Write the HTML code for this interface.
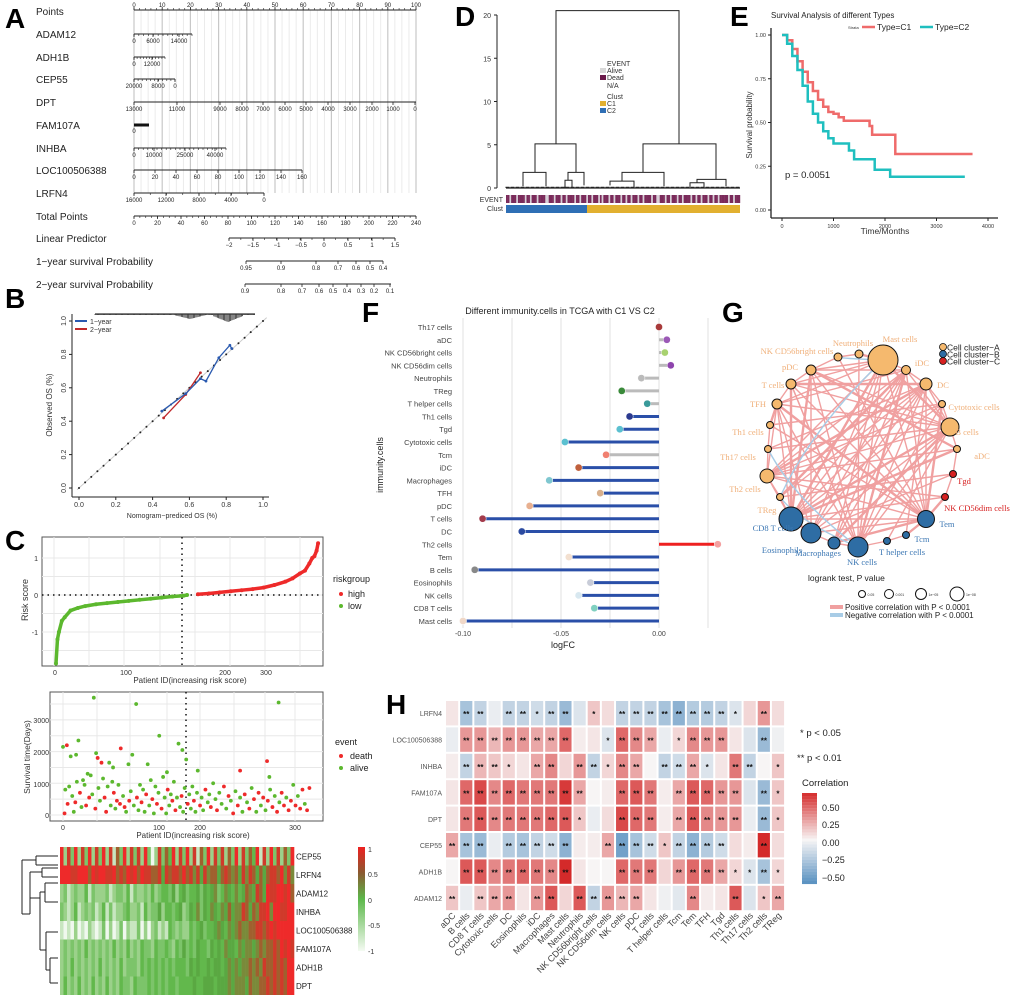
<!DOCTYPE html>
<html><head><meta charset="utf-8">
<style>
html,body{margin:0;padding:0;background:#fff;}
svg{display:block;font-family:"Liberation Sans",sans-serif;}
.pl{font-size:28px;font-weight:bold;}
.nl{font-size:10px;fill:#222;}
.tk{font-size:6px;fill:#222;}
.ax{font-size:7px;fill:#333;}
.gl{font-family:"Liberation Serif",serif;font-size:8.5px;}
</style></head>
<body>
<svg id="fig" width="1020" height="998" viewBox="0 0 1020 998" xmlns="http://www.w3.org/2000/svg">
<rect width="1020" height="998" fill="#fff"/>
<text class="pl" x="5" y="28">A</text>
<text class="pl" x="5" y="308">B</text>
<text class="pl" x="5" y="550">C</text>
<text class="pl" x="455" y="26">D</text>
<text class="pl" x="730" y="26">E</text>
<text class="pl" x="362" y="322">F</text>
<text class="pl" x="722" y="322">G</text>
<text class="pl" x="386" y="714">H</text>
<g id="gA"></g>
<g id="gB"></g>
<g id="gC"></g>
<g id="gD"></g>
<g id="gE"></g>
<g id="gF"></g>
<g id="gG"></g>
<g id="gH"></g>
</svg>
<script>
const nomoRows=["Points","ADAM12","ADH1B","CEP55","DPT","FAM107A","INHBA","LOC100506388","LRFN4","Total Points","Linear Predictor","1\u2212year survival Probability","2\u2212year survival Probability"];
const kmC1=[[0,1],[100,.97],[200,.92],[300,.85],[400,.79],[500,.73],[600,.68],[700,.63],[800,.59],[900,.56],[1000,.55],[1100,.53],[1200,.51],[1700,.48],[1750,.43],[2200,.32],[3700,.32]];
const kmC2=[[0,1],[100,.95],[200,.88],[300,.80],[400,.71],[500,.62],[600,.55],[700,.50],[800,.45],[900,.41],[1000,.38],[1300,.34],[1400,.29],[1800,.23],[2100,.19],[3550,.19]];
const cal1=[[.45,.46],[.58,.565],[.66,.655],[.69,.64],[.76,.78],[.82,.855],[.83,.835]];
const cal2=[[.46,.42],[.58,.56],[.66,.69]];
const riskRank=[0,2,4,8,12,20,30,40,55,70,85,100,115,130,145,160,175,180,195,210,225,240,255,270,285,300,315,325,335,342,348,352,355,358,360];
const riskVal=[-1.85,-1.2,-1.0,-0.7,-0.6,-0.42,-0.35,-0.3,-0.25,-0.22,-0.19,-0.16,-0.13,-0.1,-0.07,-0.04,-0.02,0.0,0.02,0.04,0.07,0.1,0.13,0.16,0.2,0.27,0.36,0.45,0.58,0.66,0.85,1.0,1.05,1.2,1.4];
const survPts=[[0,2150,0],[5,2200,1],[10,1850,0],[20,2350,0],[17,1900,0],[40,3700,0],[43,1950,0],[45,1800,1],[50,1650,1],[60,1650,0],[65,1500,0],[75,2100,1],[85,1600,0],[90,1900,0],[95,3500,0],[110,1600,0],[125,2500,0],[135,1350,0],[150,2250,0],[155,2050,0],[160,1750,0],[175,1400,0],[230,1400,1],[265,1700,1],[268,1200,0],[280,3550,0],
[2,50,1],[3,800,0],[6,350,1],[8,900,0],[12,600,0],[14,100,0],[16,400,1],[18,1050,0],[22,700,1],[24,250,0],[26,1100,0],[28,950,0],[30,300,1],[32,1300,0],[34,550,1],[36,1250,0],[38,650,0],[42,200,1],[46,850,0],[48,450,0],[52,1150,0],[54,550,1],[56,100,1],[58,900,0],[62,300,0],[64,1050,0],[66,700,1],[68,200,0],[70,450,1],[72,950,0],[74,350,1],[78,600,0],[80,250,1],[82,100,0],[86,450,1],[88,750,0],[92,300,0],[96,550,1],[98,150,0],[100,950,0],[102,400,1],[104,800,0],[106,100,0],[108,650,1],[112,300,0],[114,1100,0],[116,500,1],[118,50,0],[120,900,0],[122,350,1],[124,700,0],[128,200,1],[130,1200,0],[132,550,0],[134,50,0],[136,800,1],[138,300,0],[140,650,0],[142,450,1],[144,1050,0],[146,150,1],[148,550,0],[152,250,0],[154,600,1],[156,100,0],[158,850,0],[162,350,1],[164,650,0],[166,200,0],[168,900,0],[170,450,1],[172,100,0],[174,700,0],[178,300,1],[180,550,0],[182,150,0],[185,800,1],[188,400,0],[190,650,0],[192,250,1],[195,1000,0],[198,500,0],[200,150,1],[203,700,0],[206,350,0],[209,900,1],[212,200,0],[215,600,1],[218,450,0],[221,50,1],[224,750,0],[227,300,1],[230,550,0],[233,100,0],[236,650,1],[239,400,0],[242,200,1],[245,850,0],[248,500,1],[251,100,0],[254,700,1],[257,300,0],[260,550,1],[263,150,0],[266,450,1],[269,800,0],[272,250,1],[275,600,0],[278,100,1],[281,400,0],[284,700,1],[287,300,1],[290,550,0],[293,150,1],[296,450,1],[299,950,0],[302,300,1],[305,600,0],[308,200,1],[311,800,1],[314,350,0],[317,150,1],[320,850,1]];
const expGenes=["CEP55","LRFN4","ADAM12","INHBA","LOC100506388","FAM107A","ADH1B","DPT"];
const expRows=[
"9283928392839281739283829302837492839281739283827392837491829382739",
"9998899979899889787989798877858788797868586775787675868757578879686",
"2312322413222312332413223242344352453445354563465464576587598899897",
"3212412323124131223422314233524434523546354654657566875768896998899",
"1010201021013020130211302023121432322434534456546567667788789899999",
"2323232423232324232423243324334324353435443545465546566567677879898",
"2324232323242323242333243434343434443545445455456565667676877878799",
"2423242324232423243324333434343443444454455545556566657667787878799"];
const eventStr="ddadddaddddaddadddaddddaadddadddaddaddddaddadddaddadddadadddaddadddaddaddadddaddaddddaddaadddaddadddaddaddddaddaddadddaddaddadddddaddaddd";
const fCats=["Th17 cells","aDC","NK CD56bright cells","NK CD56dim cells","Neutrophils","TReg","T helper cells","Th1 cells","Tgd","Cytotoxic cells","Tcm","iDC","Macrophages","TFH","pDC","T cells","DC","Th2 cells","Tem","B cells","Eosinophils","NK cells","CD8 T cells","Mast cells"];
const fVals=[0.0,0.004,0.003,0.006,-0.009,-0.019,-0.006,-0.015,-0.02,-0.048,-0.027,-0.041,-0.056,-0.03,-0.066,-0.09,-0.07,0.03,-0.046,-0.094,-0.035,-0.041,-0.033,-0.1];
const fDot=["#a83a3a","#9b59b6","#a8d26f","#8e44ad","#bbbbbb","#3a8a3a","#3a9a9a","#2b3a8f","#5bc0d0","#5bc0d0","#f08070","#c0603c","#7fc7d0","#d9b08c","#e8b090","#a33b4b","#2b4aa0","#f4a0a0","#f3e0d0","#888888","#c8ccd8","#d8e8f0","#80d0c0","#f0d8c8"];
const fStem=["#bbb","#bbb","#bbb","#bbb","#bbb","#bbb","#bbb","#2a4fa8","#2a4fa8","#2a4fa8","#bbb","#2a4fa8","#2a4fa8","#2a4fa8","#2a4fa8","#2a4fa8","#2a4fa8","#ee2020","#2a4fa8","#2a4fa8","#2a4fa8","#2a4fa8","#2a4fa8","#2a4fa8"];
const gNames=["Mast cells","Neutrophils","NK CD56bright cells","pDC","T cells","TFH","Th1 cells","Th17 cells","Th2 cells","TReg","CD8 T cells","Eosinophils","Macrophages","NK cells","T helper cells","Tcm","Tem","NK CD56dim cells","Tgd","aDC","B cells","Cytotoxic cells","DC","iDC"];
const gCluster=["A","A","A","A","A","A","A","A","A","A","B","B","B","B","B","B","B","C","C","A","A","A","A","A"];
const gSize=[15,4,4,5,5,5,3.5,3.5,7,3.5,12,10,6,10,3.5,3.5,8.5,3.5,3.5,3.5,9,3.5,6,4.5];
const gEdges=[[0,10],[0,11],[0,13],[0,8],[0,5],[0,20],[0,16],[0,3],[0,4],[0,12],[3,10],[3,13],[3,20],[3,16],[3,11],[4,10],[4,13],[4,16],[4,20],[5,13],[5,16],[5,20],[5,11],[5,10],[8,20],[8,22],[8,21],[8,16],[8,19],[8,23],[10,20],[10,22],[10,23],[10,21],[10,16],[10,19],[11,20],[11,22],[11,23],[11,16],[12,20],[12,22],[12,23],[13,20],[13,22],[13,23],[13,21],[13,4],[16,23],[16,22],[16,21],[17,10],[17,8],[18,9],[18,11],[19,3],[20,23],[20,22],[21,6],[22,7],[22,4],[23,5],[6,16],[7,20],[9,22],[9,23],[14,20],[15,22],[1,13],[2,16],[12,16],[3,23],[4,22],[5,8],[8,10],[10,11],[11,12],[12,13],[13,14],[14,15],[15,16],[20,21],[21,22],[22,23],[23,0],[0,1],[1,2],[2,3],[3,4],[4,5],[5,6],[6,7],[7,8],[8,9],[9,10],[16,17],[17,18],[18,19],[19,20]];
const gNegEdges=[[2,0],[0,9],[7,13],[9,13]];
const hRows=["LRFN4","LOC100506388","INHBA","FAM107A","DPT","CEP55","ADH1B","ADAM12"];
const hCols=["aDC","B cells","CD8 T cells","Cytotoxic cells","DC","Eosinophils","iDC","Macrophages","Mast cells","Neutrophils","NK CD56bright cells","NK CD56dim cells","NK cells","pDC","T cells","T helper cells","Tcm","Tem","TFH","Tgd","Th1 cells","Th17 cells","Th2 cells","TReg"];
const hVals=[
[.05,-.3,-.2,-.05,-.2,-.2,-.15,-.2,-.35,-.1,.15,.08,-.2,-.2,-.2,-.3,-.4,-.25,-.25,-.2,-.1,.1,.3,.08],
[-.05,.3,.3,.2,.3,.3,.25,.25,.45,.03,.05,-.1,.45,.35,.25,-.05,.1,.35,.3,.3,.05,-.1,-.35,-.03],
[.03,-.2,.2,.15,.1,.05,.25,.35,.1,.3,-.2,.1,.35,.25,0,-.2,-.15,.25,-.1,.05,.4,-.2,0,.15],
[.05,.45,.55,.35,.45,.4,.4,.4,.6,.25,0,.03,.45,.5,.4,.03,.25,.5,.45,.3,.3,-.1,-.35,.15],
[.05,.4,.5,.35,.4,.4,.4,.45,.5,.15,-.05,.08,.55,.45,.4,.03,.25,.5,.35,.3,.3,-.05,-.35,.15],
[.25,-.3,-.35,-.05,-.25,-.3,-.2,-.15,-.4,.03,.03,.25,-.5,-.3,-.15,.15,-.2,-.4,-.25,-.15,.08,.03,.65,.08],
[0,.5,.5,.35,.4,.45,.4,.35,.65,.05,0,0,.45,.4,.4,.1,.3,.45,.4,.25,.1,-.1,-.3,.1],
[.15,-.05,.15,.25,.3,.05,.3,.5,.1,.5,-.2,.3,.2,.25,.05,-.03,-.08,.35,.03,.05,.5,-.1,.15,.25]];
const hStars=[
"0,2,2,0,2,2,1,2,2,0,1,0,2,2,2,2,2,2,2,2,1,0,2,0",
"0,2,2,2,2,2,2,2,2,0,0,1,2,2,2,0,1,2,2,2,0,0,2,0",
"0,2,2,2,1,0,2,2,0,2,2,1,2,2,0,2,2,2,1,0,2,2,0,1",
"0,2,2,2,2,2,2,2,2,2,0,0,2,2,2,0,2,2,2,2,2,0,2,1",
"0,2,2,2,2,2,2,2,2,1,0,0,2,2,2,0,2,2,2,2,2,0,2,1",
"2,2,2,0,2,2,2,2,2,0,0,2,2,2,2,1,2,2,2,2,0,0,2,0",
"0,2,2,2,2,2,2,2,2,0,0,0,2,2,2,0,2,2,2,2,1,1,2,1",
"2,0,2,2,2,0,2,2,0,2,2,2,2,2,0,0,0,2,0,0,2,0,1,2"];

const NS="http://www.w3.org/2000/svg";
function mk(tag,attrs,parent){const e=document.createElementNS(NS,tag);for(const k in attrs)e.setAttribute(k,attrs[k]);parent.appendChild(e);return e;}
function tx(str,attrs,parent){const e=mk('text',attrs,parent);e.textContent=str;return e;}
function lerpC(a,b,t){const pa=[parseInt(a.slice(1,3),16),parseInt(a.slice(3,5),16),parseInt(a.slice(5,7),16)],pb=[parseInt(b.slice(1,3),16),parseInt(b.slice(3,5),16),parseInt(b.slice(5,7),16)];return 'rgb('+pa.map((v,i)=>Math.round(v+(pb[i]-v)*t)).join(',')+')';}

(function(){
const g=document.getElementById('gA');
const rowY=[11,34,57,79,102,125,148,170,193,216,238,261,284];
nomoRows.forEach((r,i)=>{const t=tx(r,{x:36,y:rowY[i]+4,class:'nl'},g);

});
const px=p=>134+p*2.82;
for(let p=0;p<=100;p+=2.5){const l=mk('line',{x1:px(p),x2:px(p),y1:10,y2:193,stroke:p%10==0?'#c8c8c8':'#e6e6e6','stroke-width':p%10==0?1.2:0.8},g);

}
function scale(y,x0,x1,labels,below,minor){const l=mk('line',{x1:x0,x2:x1,y1:y,y2:y,stroke:'#222','stroke-width':1},g);


if(minor){for(let k=0;k<=minor;k++){mk('line',{x1:x0+(x1-x0)*k/minor,x2:x0+(x1-x0)*k/minor,y1:y,y2:below?y+2:y-2,stroke:'#222','stroke-width':.6},g);}}
labels.forEach(([v,x])=>{mk('line',{x1:x,x2:x,y1:y,y2:below?y+3:y-3,stroke:'#222','stroke-width':.8},g);tx(v,{x:x,y:below?y+9:y-3,class:'tk','text-anchor':'middle'},g);});}
const pl=[];for(let p=0;p<=100;p+=10)pl.push([String(p),px(p)]);
scale(10,134,416,pl,false,50);
scale(34,134,192,[["0",134],["6000",153],["14000",179]],true,12);
scale(57,134,165,[["0",134],["12000",152]],true,10);
scale(79,134,175,[["20000",134],["8000",158],["0",175]],true,10);
scale(102,134,416,[["13000",134],["11000",177],["9000",220],["8000",242],["7000",263],["6000",285],["5000",306],["4000",328],["3000",350],["2000",372],["1000",393],["0",415]],true,0);
mk('line',{x1:134,x2:149,y1:125,y2:125,stroke:'#111','stroke-width':3},g);tx("0",{x:134,y:133,class:'tk','text-anchor':'middle'},g);
scale(148,134,226,[["0",134],["10000",154],["25000",185],["40000",215]],true,20);
const ll=[];for(let k=0;k<=8;k++)ll.push([String(k*20),134+k*21]);
scale(170,134,302,ll,true,0);
scale(193,134,264,[["16000",134],["12000",166],["8000",199],["4000",231],["0",264]],true,8);
const tl=[];for(let k=0;k<=12;k++)tl.push([String(k*20),134+k*23.5]);
scale(216,134,416,tl,true,48);
scale(238,229,395,[["\u22122",229],["\u22121.5",253],["\u22121",277],["\u22120.5",301],["0",324],["0.5",348],["1",372],["1.5",395]],true,14);
scale(261,246,383,[["0.95",246],["0.9",281],["0.8",316],["0.7",338],["0.6",356],["0.5",370],["0.4",383]],true,0);
scale(284,245,391,[["0.9",245],["0.8",281],["0.7",302],["0.6",319],["0.5",333],["0.4",347],["0.3",361],["0.2",374],["0.1",390]],true,0);
})();

(function(){
const g=document.getElementById('gB');
const X=v=>79+v*184, Y=v=>488-v*167;
mk('line',{x1:72,x2:269,y1:497,y2:497,stroke:'#222'},g);
mk('line',{x1:72,x2:72,y1:314,y2:497,stroke:'#222'},g);
[0,.2,.4,.6,.8,1].forEach(v=>{mk('line',{x1:X(v),x2:X(v),y1:497,y2:500,stroke:'#222'},g);tx(v.toFixed(1),{x:X(v),y:507,class:'ax','text-anchor':'middle'},g);
mk('line',{x1:69,x2:72,y1:Y(v),y2:Y(v),stroke:'#222'},g);tx(v.toFixed(1),{x:66,y:Y(v),class:'ax','text-anchor':'middle',transform:`rotate(-90 66 ${Y(v)})`},g);});
tx("Nomogram\u2212prediced OS (%)",{x:172,y:518,class:'ax','font-size':'8','text-anchor':'middle'},g);
tx("Observed OS (%)",{x:52,y:405,'font-size':'8',fill:'#333','text-anchor':'middle',transform:'rotate(-90 52 405)'},g);
mk('line',{x1:X(-0.01),y1:Y(-0.01),x2:X(1.02),y2:Y(1.02),stroke:'#ccc'},g);
for(let k=0;k<=30;k++){const v=k/30;mk('circle',{cx:X(v),cy:Y(v),r:1,fill:'#222'},g);}
for(let x=95;x<255;x+=1.2){const d=Math.abs(x-228)<15?8-Math.abs(x-228)/2.5:(Math.abs(x-190)<18?5-Math.abs(x-190)/4:1);mk('line',{x1:x,x2:x,y1:314,y2:314+Math.max(.8,d),stroke:'#333','stroke-width':.8},g);}
mk('line',{x1:95,x2:255,y1:314,y2:314,stroke:'#333','stroke-width':1.2},g);
function ser(arr,col,nm){const p=mk('polyline',{points:arr.map(d=>X(d[0])+','+Y(d[1])).join(' '),fill:'none',stroke:col,'stroke-width':1.3},g);


arr.forEach(d=>{const c=mk('circle',{cx:X(d[0]),cy:Y(d[1]),r:1.4,fill:col},g);

});}
ser(cal2,'#c0282a','calibration-2-year');ser(cal1,'#2a5ab0','calibration-1-year');
mk('line',{x1:75,x2:87,y1:321,y2:321,stroke:'#2a5ab0','stroke-width':2},g);tx("1\u2212year",{x:90,y:324,class:'ax','font-size':'8'},g);
mk('line',{x1:75,x2:87,y1:329,y2:329,stroke:'#c0282a','stroke-width':2},g);tx("2\u2212year",{x:90,y:332,class:'ax','font-size':'8'},g);
})();

(function(){
const g=document.getElementById('gC');
mk('rect',{x:42,y:537,width:281,height:129,fill:'#fff',stroke:'#555'},g);
const RX=r=>56+r*0.728, RY=v=>595-v*37;
[54,89,124,160,195,230,265,300].forEach(x=>mk('line',{x1:x,x2:x,y1:537,y2:666,stroke:'#e8e8e8'},g));
[-1.5,-1,-.5,0,.5,1].forEach(v=>mk('line',{x1:42,x2:323,y1:RY(v),y2:RY(v),stroke:'#e8e8e8'},g));
mk('line',{x1:42,x2:323,y1:595,y2:595,stroke:'#111','stroke-width':1.5,'stroke-dasharray':'1.5 4'},g);
mk('line',{x1:182,x2:182,y1:537,y2:666,stroke:'#111','stroke-width':1.5,'stroke-dasharray':'1.5 4'},g);
const lo=[],hi=[];riskRank.forEach((r,i)=>{(riskVal[i]<=0?lo:hi).push(RX(r)+','+RY(riskVal[i]));});
let p=mk('polyline',{points:lo.join(' '),fill:'none',stroke:'#5cb82e','stroke-width':3.5},g);


p=mk('polyline',{points:hi.join(' '),fill:'none',stroke:'#ee2a2a','stroke-width':3.5},g);


riskRank.forEach((r,i)=>{const c=mk('circle',{cx:RX(r),cy:RY(riskVal[i]),r:2,fill:riskVal[i]<=0?'#5cb82e':'#ee2a2a'},g);

});
[["1",558],["0",595],["-1",632]].forEach(([t,y])=>tx(t,{x:38,y:y+3,class:'ax','text-anchor':'end'},g));
tx("Risk score",{x:28,y:600,'font-size':'9',fill:'#333','text-anchor':'middle',transform:'rotate(-90 28 600)'},g);
[["0",55],["100",126],["200",225],["300",266]].forEach(([t,x])=>tx(t,{x:x,y:675,class:'ax','text-anchor':'middle'},g));
tx("Patient ID(increasing risk score)",{x:190,y:683,'font-size':'8',fill:'#333','text-anchor':'middle'},g);
tx("riskgroup",{x:333,y:582,'font-size':'9',fill:'#222'},g);
mk('circle',{cx:341,cy:594,r:2,fill:'#ee2a2a'},g);tx("high",{x:348,y:597,'font-size':'9',fill:'#222'},g);
mk('circle',{cx:341,cy:606,r:2,fill:'#5cb82e'},g);tx("low",{x:348,y:609,'font-size':'9',fill:'#222'},g);
mk('rect',{x:50,y:692,width:273,height:129,fill:'#fff',stroke:'#555'},g);
const SX=v=>63+v*0.77, SY=v=>815-v*0.0317;
[63,97,130,167,200,234,265,295].forEach(x=>mk('line',{x1:x,x2:x,y1:692,y2:821,stroke:'#e8e8e8'},g));
[0,500,1000,1500,2000,2500,3000,3500].forEach(v=>mk('line',{x1:50,x2:323,y1:SY(v),y2:SY(v),stroke:'#e8e8e8'},g));
mk('line',{x1:186,x2:186,y1:692,y2:821,stroke:'#111','stroke-width':1.5,'stroke-dasharray':'1.5 4'},g);
survPts.forEach(d=>{const c=mk('circle',{cx:SX(d[0]),cy:SY(d[1]),r:1.9,fill:d[2]?'#ee2a2a':'#5cb82e'},g);

});
[["0",815],["1000",784],["2000",752],["3000",720]].forEach(([t,y])=>tx(t,{x:49,y:y+3,class:'ax','text-anchor':'end'},g));
tx("Survival time(Days)",{x:30,y:757,'font-size':'8.5',fill:'#333','text-anchor':'middle',transform:'rotate(-90 30 757)'},g);
[["0",63],["100",159],["200",200],["300",295]].forEach(([t,x])=>tx(t,{x:x,y:830,class:'ax','text-anchor':'middle'},g));
tx("Patient ID(increasing risk score)",{x:193,y:838,'font-size':'8',fill:'#333','text-anchor':'middle'},g);
tx("event",{x:335,y:745,'font-size':'9',fill:'#222'},g);
mk('circle',{cx:341,cy:756,r:2,fill:'#ee2a2a'},g);tx("death",{x:350,y:759,'font-size':'9',fill:'#222'},g);
mk('circle',{cx:341,cy:768,r:2,fill:'#5cb82e'},g);tx("alive",{x:350,y:771,'font-size':'9',fill:'#222'},g);
const cols=["#f0f8ee","#c8e6c0","#9bd18a","#7cc46a","#62b84c","#5aa842","#7a8a3a","#a0602e","#d03a2a","#ee2a2a"];
const hx=60,hw=234,hy=847,rh=18.5;
expRows.forEach((row,ri)=>{const cw=hw/row.length;for(let k=0;k<row.length;k++){const c=mk('rect',{x:hx+k*cw,y:hy+ri*rh,width:cw+.3,height:rh,fill:cols[+row[k]]},g);

}
const t=tx(expGenes[ri],{x:296,y:hy+ri*rh+rh/2+3,'font-size':'8',fill:'#222'},g);

});
const dl=[[36,856,36,865],[36,856,58,856],[36,865,58,865],[22,860,36,860],[22,860,22,914],[30,872,30,898],[30,872,42,872],[42,868,42,877],[42,868,58,868],[42,877,58,877],[30,898,40,898],[40,892,40,950],[40,892,45,892],[45,883,45,902],[45,883,58,883],[45,902,58,902],[40,950,46,950],[46,932,46,970],[46,932,58,932],[46,970,50,970],[50,958,50,983],[50,958,58,958],[50,983,58,983],[22,914,30,914],[30,898,30,914]];
dl.forEach(d=>mk('line',{x1:d[0],y1:d[1],x2:d[2],y2:d[3],stroke:'#222','stroke-width':1},g));
const grad=mk('linearGradient',{id:'cg',x1:0,y1:1,x2:0,y2:0},mk('defs',{},g));
[["0","#f4faf2"],["0.5","#5cb84a"],["0.75","#8a5a30"],["1","#ee2020"]].forEach(([o,c])=>mk('stop',{offset:o,'stop-color':c},grad));
mk('rect',{x:358,y:847,width:7,height:104,fill:'url(#cg)'},g);
[["1",849],["0.5",874],["0",900],["-0.5",925],["-1",951]].forEach(([t,y])=>tx(t,{x:368,y:y+3,class:'ax'},g));
})();

(function(){
const g=document.getElementById('gD');
const Y=v=>188-v*8.65;
mk('line',{x1:497,x2:497,y1:Y(20),y2:Y(0),stroke:'#222'},g);
[0,5,10,15,20].forEach(v=>{mk('line',{x1:494,x2:497,y1:Y(v),y2:Y(v),stroke:'#222'},g);tx(String(v),{x:491,y:Y(v)+3,class:'ax','text-anchor':'end'},g);});
function U(x1,x2,h,h1,h2){mk('path',{d:`M${x1},${Y(h1)}V${Y(h)}H${x2}V${Y(h2)}`,fill:'none',stroke:'#222','stroke-width':1},g);}
U(556,679,20.5,5.1,5.1);U(535,576,5.1,1.8,1.8);U(643,716,5.1,1.8,1.0);
U(523,546,1.8,0.2,0.2);U(568,584,1.8,0.9,0.3);U(622,664,1.8,0.8,0.2);U(697,726,1.0,0.6,0.2);
U(565,572,0.9,0.05,0.05);U(610,634,0.8,0.3,0.05);U(690,704,0.6,0.15,0.05);
for(let x=506;x<740;x+=5){U(x,x+3,0.05+((x*7)%5)*0.02,0,0);}
mk('line',{x1:506,x2:740,y1:188,y2:188,stroke:'#222','stroke-width':1.2},g);
const w=234/eventStr.length;
for(let k=0;k<eventStr.length;k++){const r=mk('rect',{x:506+k*w,y:195,width:w+.2,height:8,fill:eventStr[k]=='d'?'#7a2a5a':'#d8d0d8'},g);

}
mk('rect',{x:506,y:205,width:81,height:8,fill:'#2f6fb5'},g);
mk('rect',{x:587,y:205,width:153,height:8,fill:'#e2b030'},g);
tx("EVENT",{x:503,y:202,class:'ax','text-anchor':'end'},g);tx("Clust",{x:503,y:211,class:'ax','text-anchor':'end'},g);
tx("EVENT",{x:607,y:66,class:'ax'},g);
mk('rect',{x:600,y:68,width:6,height:5,fill:'#d8d8d8'},g);tx("Alive",{x:607,y:73,class:'ax'},g);
mk('rect',{x:600,y:75,width:6,height:5,fill:'#6a1a4a'},g);tx("Dead",{x:607,y:80,class:'ax'},g);
tx("N/A",{x:607,y:88,class:'ax'},g);
tx("Clust",{x:607,y:99,class:'ax'},g);
mk('rect',{x:600,y:101,width:6,height:5,fill:'#e2b030'},g);tx("C1",{x:607,y:106,class:'ax'},g);
mk('rect',{x:600,y:108,width:6,height:5,fill:'#2f6fb5'},g);tx("C2",{x:607,y:113,class:'ax'},g);
})();

(function(){
const g=document.getElementById('gE');
const X=t=>782+t*0.0515, Y=s=>210-s*175;
mk('line',{x1:771,x2:771,y1:28,y2:218,stroke:'#222','stroke-width':1.3},g);
mk('line',{x1:771,x2:998,y1:218,y2:218,stroke:'#222','stroke-width':1.3},g);
[0,.25,.5,.75,1].forEach(v=>{mk('line',{x1:768,x2:771,y1:Y(v),y2:Y(v),stroke:'#222'},g);tx(v.toFixed(2),{x:766,y:Y(v)+2,'font-size':'5.5',fill:'#333','text-anchor':'end'},g);});
[0,1000,2000,3000,4000].forEach(v=>{mk('line',{x1:X(v),x2:X(v),y1:218,y2:221,stroke:'#222'},g);tx(String(v),{x:X(v),y:228,'font-size':'5.5',fill:'#333','text-anchor':'middle'},g);});
tx("Time/Months",{x:885,y:234,'font-size':'8.5',fill:'#333','text-anchor':'middle'},g);
tx("Survival probability",{x:752,y:125,'font-size':'8',fill:'#333','text-anchor':'middle',transform:'rotate(-90 752 125)'},g);
tx("Survival Analysis of different Types",{x:771,y:18,'font-size':'8',fill:'#222'},g);
tx("Strata",{x:848,y:29,'font-size':'4',fill:'#333'},g);
mk('line',{x1:862,x2:875,y1:27,y2:27,stroke:'#ef6b6b','stroke-width':2.5},g);tx("Type=C1",{x:877,y:30,'font-size':'8.5',fill:'#222'},g);
mk('line',{x1:920,x2:933,y1:27,y2:27,stroke:'#1fbfbf','stroke-width':2.5},g);tx("Type=C2",{x:935,y:30,'font-size':'8.5',fill:'#222'},g);
function step(arr,col,nm){let d='M'+X(arr[0][0])+','+Y(arr[0][1]);for(let i=1;i<arr.length;i++)d+='H'+X(arr[i][0])+'V'+Y(arr[i][1]);
const p=mk('path',{d:d,fill:'none',stroke:col,'stroke-width':2.5},g);

}
step(kmC1,'#ef6b6b','km-curve-c1');step(kmC2,'#1fbfbf','km-curve-c2');
tx("p = 0.0051",{x:785,y:178,'font-size':'9.5',fill:'#222'},g);
})();

(function(){
const g=document.getElementById('gF');
const X=v=>659+v*1960, Y=i=>327+i*12.78;
tx("Different immunity.cells in TCGA with C1 VS C2",{x:560,y:314,'font-size':'9',fill:'#222','text-anchor':'middle'},g);
[-0.1,-0.075,-0.05,-0.025,0,0.025].forEach(v=>mk('line',{x1:X(v),x2:X(v),y1:318,y2:628,stroke:'#e2e2e2','stroke-width':1},g));
fCats.forEach((c,i)=>{const t=tx(c,{x:452,y:Y(i)+3,'font-size':'7.5',fill:'#444','text-anchor':'end'},g);


const l=mk('line',{x1:X(0),x2:X(fVals[i]),y1:Y(i),y2:Y(i),stroke:fStem[i],'stroke-width':3},g);


const d=mk('circle',{cx:X(fVals[i]),cy:Y(i),r:3.6,fill:fDot[i],stroke:'#fff','stroke-width':.5},g);

});
[["-0.10",-0.1],["-0.05",-0.05],["0.00",0]].forEach(([t,v])=>tx(t,{x:X(v),y:636,'font-size':'7',fill:'#444','text-anchor':'middle'},g));
tx("logFC",{x:563,y:648,'font-size':'9',fill:'#222','text-anchor':'middle'},g);
tx("immunity.cells",{x:383,y:465,'font-size':'9',fill:'#222','text-anchor':'middle',transform:'rotate(-90 383 465)'},g);
})();

(function(){
const g=document.getElementById('gG');
const gx=[883,859,838,811,791,777,770,768,767,780,791,811,834,858,887,906,926,945,953,957,950,942,926,906];
const gy=[360,354,357,370,384,404,425,449,476,497,519,533,543,547,541,535,519,497,474,449,427,404,384,370];
const lx=[900,853,797,790,773,758,748,738,745,767,773,782,818,862,902,922,947,977,964,982,967,974,943,922];
const ly=[339,343,351,367,385,404,432,457,489,510,528,550,553,562,552,539,524,508,481,456,432,407,385,363];
const fillC={A:'#f5b96e',B:'#2e6da4',C:'#d62020'}, txtC={A:'#f0b07a',B:'#3d78b4',C:'#d62020'};
gEdges.forEach(([a,b],k)=>{const e=mk('line',{x1:gx[a],y1:gy[a],x2:gx[b],y2:gy[b],stroke:'#f0a0a0','stroke-width':k%5==0?2.4:1.4},g);

});
gNegEdges.forEach(([a,b])=>{const e=mk('path',{d:`M${gx[a]},${gy[a]}Q${(gx[a]+gx[b])/2-20},${(gy[a]+gy[b])/2} ${gx[b]},${gy[b]}`,fill:'none',stroke:'#a8cce6','stroke-width':1.4},g);

});
gNames.forEach((n,i)=>{const c=mk('circle',{cx:gx[i],cy:gy[i],r:gSize[i],fill:fillC[gCluster[i]],stroke:'#111','stroke-width':1},g);


const t=tx(n,{x:lx[i],y:ly[i]+3,class:'gl',fill:txtC[gCluster[i]],'text-anchor':'middle'},g);

});
[["Cell cluster\u2212A",fillC.A,347],["Cell cluster\u2212B",fillC.B,354],["Cell cluster\u2212C",fillC.C,361]].forEach(([t,c,y])=>{mk('circle',{cx:943,cy:y,r:3.5,fill:c,stroke:'#111','stroke-width':.8},g);tx(t,{x:947,y:y+3.5,'font-size':'8.5',fill:'#222'},g);});
tx("logrank test, P value",{x:808,y:581,'font-size':'8.5',fill:'#222'},g);
[[862,3.5,"0.05"],[889,4.5,"0.001"],[921,5.5,"1e\u221205"],[957,7,"1e\u221208"]].forEach(([x,r,t])=>{mk('circle',{cx:x,cy:594,r:r,fill:'none',stroke:'#111'},g);tx(t,{x:x+r+2,y:596,'font-size':'3.5',fill:'#333'},g);});
mk('line',{x1:830,x2:843,y1:607,y2:607,stroke:'#f0a0a0','stroke-width':4},g);tx("Positive correlation with P < 0.0001",{x:845,y:610,'font-size':'8',fill:'#222'},g);
mk('line',{x1:830,x2:843,y1:615,y2:615,stroke:'#a8cce6','stroke-width':4},g);tx("Negative correlation with P < 0.0001",{x:845,y:618,'font-size':'8',fill:'#222'},g);
})();

(function(){
const g=document.getElementById('gH');
const x0=445,cw=14.17,y0=700,rh=26.4;
function col(v){const t=Math.max(-1,Math.min(1,v/0.65));return t>=0?lerpC('#f7f5f5','#d42a2a',t):lerpC('#f7f5f5','#4a88bc',-t);}
hRows.forEach((r,ri)=>{const t=tx(r,{x:442,y:y0+ri*rh+rh/2+3,'font-size':'7',fill:'#555','text-anchor':'end'},g);


const st=hStars[ri].split(',');
hVals[ri].forEach((v,ci)=>{const c=mk('rect',{x:x0+ci*cw+1,y:y0+ri*rh+1,width:cw-2,height:rh-2,fill:col(v)},g);


if(+st[ci]>0){const s=tx(st[ci]=='2'?'**':'*',{x:x0+ci*cw+cw/2,y:y0+ri*rh+rh/2+4,'font-size':'8','font-weight':'bold',fill:'#111','text-anchor':'middle'},g);

}});});
hCols.forEach((c,ci)=>{const x=x0+ci*cw+cw/2+4,y=y0+8*rh+5;const t=tx(c,{x:x,y:y,'font-size':'9',fill:'#444','text-anchor':'end',transform:`rotate(-45 ${x} ${y})`},g);

});
tx("* p < 0.05",{x:800,y:736,'font-size':'9.5',fill:'#222'},g);
tx("** p < 0.01",{x:797,y:761,'font-size':'9.5',fill:'#222'},g);
tx("Correlation",{x:802,y:786,'font-size':'9.5',fill:'#222'},g);
for(let k=0;k<30;k++){const v=0.62-k*(1.2/29);mk('rect',{x:802,y:793+k*3.03,width:15,height:3.2,fill:col(v)},g);}
[["0.50",808],["0.25",825],["0.00",843],["\u22120.25",860],["\u22120.50",878]].forEach(([t,y])=>tx(t,{x:822,y:y+3,'font-size':'9',fill:'#222'},g));
})();
</script>
</body></html>
